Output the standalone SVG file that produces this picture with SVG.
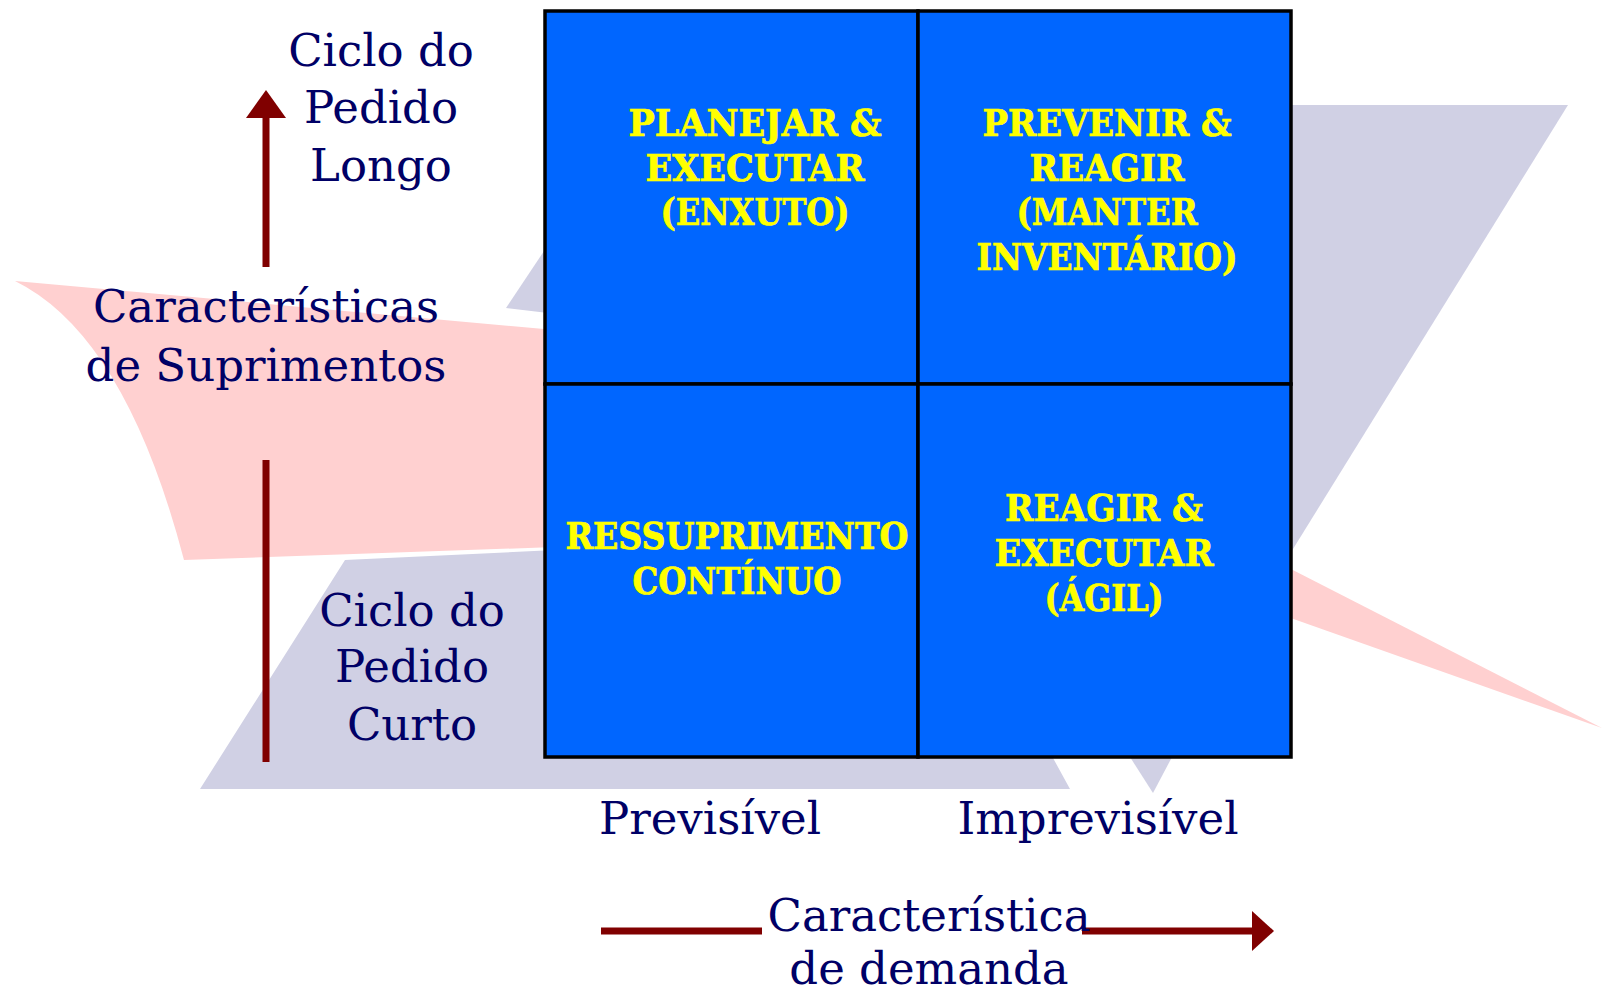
<svg xmlns="http://www.w3.org/2000/svg" width="1604" height="994" viewBox="0 0 1604 994">
<style>
.nv{font-family:"DejaVu Serif","Liberation Serif",serif;font-size:45px;fill:#000066;text-anchor:middle}
.q{font-family:"DejaVu Serif Condensed","DejaVu Serif","Liberation Serif",serif;font-stretch:condensed;font-weight:bold;font-size:38px;fill:#FFFF00;stroke:#FFFF00;stroke-width:0.7;text-anchor:middle}
.cell{fill:#0066FF;stroke:#000;stroke-width:3.5}
.pink{fill:#FFD0D0}
.gray{fill:#D0D0E4}
.ar{fill:#800000}
</style>
<rect width="1604" height="994" fill="#fff"/>
<g id="background">
<polygon class="gray" points="1280,105 1568,105 1280,570"/>
<polygon class="gray" points="548,245 506,308 548,313"/>
<polygon class="gray" points="345,560 555,550 555,758 1053,758 1070,789 200,789"/>
<polygon class="gray" points="1130,757 1172,757 1153,793"/>
<path class="pink" d="M15,281 L555,330 L555,547 L184,560 Q125,335 15,281 Z"/>
<path class="pink" d="M1285,566 L1602,728 L1285,616 Z"/>
</g>
<g id="q-planejar">
<rect class="cell" x="545" y="11" width="373" height="373"/>
<text class="q" x="755" y="136" textLength="253" lengthAdjust="spacingAndGlyphs">PLANEJAR &amp;</text>
<text class="q" x="755" y="181" textLength="219" lengthAdjust="spacingAndGlyphs">EXECUTAR</text>
<text class="q" x="755" y="225" textLength="189" lengthAdjust="spacingAndGlyphs">(ENXUTO)</text>
</g>
<g id="q-prevenir">
<rect class="cell" x="918" y="11" width="373" height="373"/>
<text class="q" x="1107" y="136" textLength="249" lengthAdjust="spacingAndGlyphs">PREVENIR &amp;</text>
<text class="q" x="1107" y="181" textLength="155" lengthAdjust="spacingAndGlyphs">REAGIR</text>
<text class="q" x="1107" y="225" textLength="181" lengthAdjust="spacingAndGlyphs">(MANTER</text>
<text class="q" x="1107" y="270" textLength="261" lengthAdjust="spacingAndGlyphs">INVENTÁRIO)</text>
</g>
<g id="q-ressuprimento">
<rect class="cell" x="545" y="384" width="373" height="373"/>
<text class="q" x="737" y="549" textLength="343" lengthAdjust="spacingAndGlyphs">RESSUPRIMENTO</text>
<text class="q" x="737" y="594" textLength="209" lengthAdjust="spacingAndGlyphs">CONTÍNUO</text>
</g>
<g id="q-reagir">
<rect class="cell" x="918" y="384" width="373" height="373"/>
<text class="q" x="1104" y="521" textLength="198" lengthAdjust="spacingAndGlyphs">REAGIR &amp;</text>
<text class="q" x="1104" y="566" textLength="219" lengthAdjust="spacingAndGlyphs">EXECUTAR</text>
<text class="q" x="1104" y="611" textLength="119" lengthAdjust="spacingAndGlyphs">(ÁGIL)</text>
</g>
<g id="connectors">
<rect class="ar" x="262.5" y="116" width="7" height="151"/>
<polygon class="ar" points="266,90 246,118 286,118"/>
<rect class="ar" x="262.5" y="460" width="7" height="302"/>
<rect class="ar" x="601" y="927.5" width="161" height="7"/>
<rect class="ar" x="1082" y="927.5" width="172" height="7"/>
<polygon class="ar" points="1274,931 1252,911 1252,951"/>
</g>
<g id="label-longo">
<text class="nv" x="381" y="66">Ciclo do</text>
<text class="nv" x="381" y="123">Pedido</text>
<text class="nv" x="381" y="181">Longo</text>
</g>
<g id="label-suprimentos">
<text class="nv" x="266" y="322">Características</text>
<text class="nv" x="266" y="381">de Suprimentos</text>
</g>
<g id="label-curto">
<text class="nv" x="412" y="626">Ciclo do</text>
<text class="nv" x="412" y="682">Pedido</text>
<text class="nv" x="412" y="740">Curto</text>
</g>
<g id="label-previsivel"><text class="nv" x="710" y="834">Previsível</text></g>
<g id="label-imprevisivel"><text class="nv" x="1098" y="834">Imprevisível</text></g>
<g id="label-demanda">
<text class="nv" x="929" y="931">Característica</text>
<text class="nv" x="929" y="984">de demanda</text>
</g>
</svg>
